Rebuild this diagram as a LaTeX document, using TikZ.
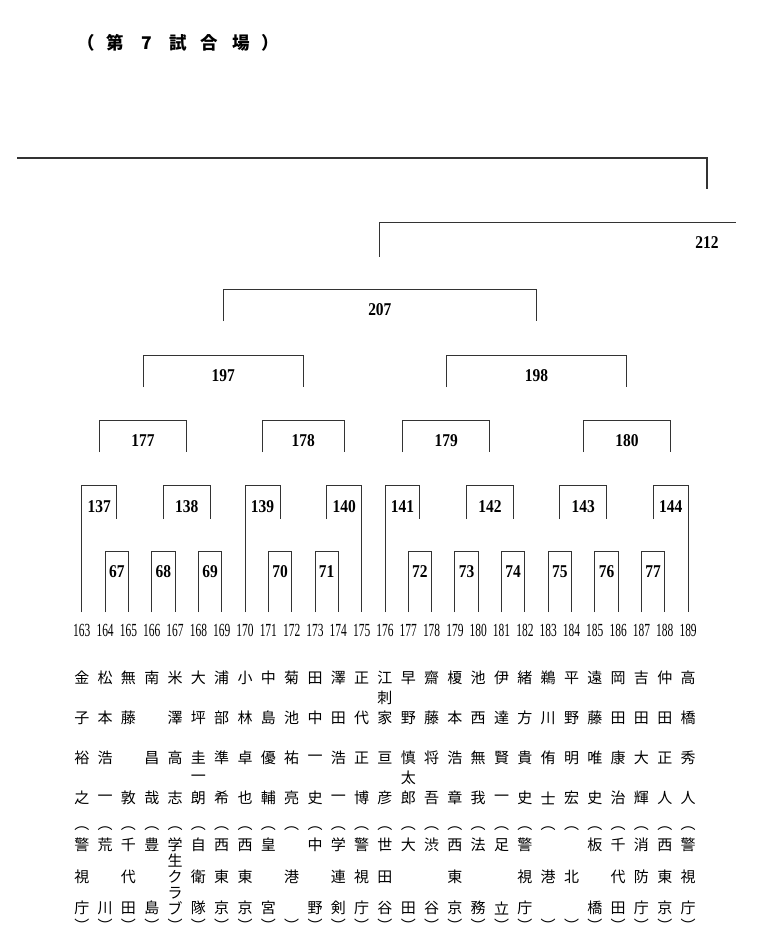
\documentclass[tikz,border=0pt]{standalone}
\usepackage{fontspec}
\usetikzlibrary{calc}
\newfontfamily\cjk{Noto Sans CJK JP}
\newfontfamily\numfont[FakeStretch=0.62]{Liberation Serif}
\newfontfamily\boutfont[FakeStretch=0.86]{Liberation Serif}

\tikzset{
  bracket/.style={draw=black!80, line width=0.9pt},
  boutno/.style={font=\boutfont\bfseries\fontsize{18}{18}\selectfont, inner sep=0pt},
  entryno/.style={font=\numfont\fontsize{18.5}{18.5}\selectfont, inner sep=0pt},
  kanji/.style={font=\cjk\fontsize{15}{15}\selectfont, inner sep=0pt},
}

\begin{document}
\begin{tikzpicture}[x=1pt, y=-1pt]
\useasboundingbox[fill=white] (0,0) rectangle (760,947);

% Title
\foreach \ch/\x [count=\k] in {（/86.5, 第/115, 7/147, 試/178, 合/209, 場/241, ）/270.5}
  \node[font=\cjk\bfseries\fontsize{17.5}{17.5}\selectfont, inner sep=0pt] (title\k) at (\x,43) {\ch};

% Entry numbers
\foreach \i in {163,...,189}
  \node[entryno] (p\i) at ({81.8+23.32*(\i-163)},630) {\i};

% First round
\foreach \m/\a/\b in {67/164/165, 68/166/167, 69/168/169, 70/171/172, 71/173/174,
    72/177/178, 73/179/180, 74/181/182, 75/183/184, 76/185/186, 77/187/188} {
  \draw[bracket] (p\a |- 0,612) |- (p\b |- 0,551) -- (p\b |- 0,612);
  \node[boutno] (m\m) at ($(p\a)!.5!(p\b) + (0,-58)$) {\m};
}

% Second round
\foreach \m/\l/\r/\ly/\ry in {137/p163/m67/612/519, 138/m68/m69/519/519,
    139/p170/m70/612/519, 140/m71/p175/519/612, 141/p176/m72/612/519,
    142/m73/m74/519/519, 143/m75/m76/519/519, 144/m77/p189/519/612} {
  \draw[bracket] (\l |- 0,\ly) |- (\r |- 0,485) -- (\r |- 0,\ry);
  \node[boutno] (m\m) at ($(\l |- 0,507)!.5!(\r |- 0,507)$) {\m};
}

% Third round
\foreach \m/\l/\r in {177/m137/m138, 178/m139/m140, 179/m141/m142, 180/m143/m144} {
  \draw[bracket] (\l |- 0,452) |- (\r |- 0,420) -- (\r |- 0,452);
  \node[boutno] (m\m) at ($(\l |- 0,441)!.5!(\r |- 0,441)$) {\m};
}

% Fourth round
\foreach \m/\l/\r in {197/m177/m178, 198/m179/m180} {
  \draw[bracket] (\l |- 0,387) |- (\r |- 0,355) -- (\r |- 0,387);
  \node[boutno] (m\m) at ($(\l |- 0,376)!.5!(\r |- 0,376)$) {\m};
}

% Fifth round
\draw[bracket] (m197 |- 0,321) |- (m198 |- 0,289) -- (m198 |- 0,321);
\node[boutno] (m207) at ($(m197 |- 0,310)!.5!(m198 |- 0,310)$) {207};

% Upper lines
\coordinate (edgeL) at (17,158);
\coordinate (edgeR) at (736,222.5);
\node[boutno] (m212) at (707,243) {212};
\draw[bracket] (m207 |- 0,256.5) |- (edgeR);
\draw[bracket, line width=1.4pt] (edgeL) -| (m212 |- 0,189);

% Names and teams
\foreach \i/\a/\b/\c/\d/\e/\f/\g in {
    163/金/子/裕/之/警/視/庁, 164/松/本/浩/一/荒/{}/川, 165/無/藤/{}/敦/千/代/田,
    166/南/{}/昌/哉/豊/{}/島, 167/米/澤/高/志/学/ク/ブ, 168/大/坪/圭/朗/自/衛/隊,
    169/浦/部/準/希/西/東/京, 170/小/林/卓/也/西/東/京, 171/中/島/優/輔/皇/{}/宮,
    172/菊/池/祐/亮/{}/港/{}, 173/田/中/一/史/中/{}/野, 174/澤/田/浩/一/学/連/剣,
    175/正/代/正/博/警/視/庁, 176/江/家/亘/彦/世/田/谷, 177/早/野/慎/郎/大/{}/田,
    178/齋/藤/将/吾/渋/{}/谷, 179/榎/本/浩/章/西/東/京, 180/池/西/無/我/法/{}/務,
    181/伊/達/賢/一/足/{}/立, 182/緒/方/貴/史/警/視/庁, 183/鵜/川/侑/士/{}/港/{},
    184/平/野/明/宏/{}/北/{}, 185/遠/藤/唯/史/板/{}/橋, 186/岡/田/康/治/千/代/田,
    187/吉/田/大/輝/消/防/庁, 188/仲/田/正/人/西/東/京, 189/高/橋/秀/人/警/視/庁} {
  \node[kanji] (n\i-1) at (p\i |- 0,678) {\a};
  \node[kanji] (n\i-2) at (p\i |- 0,718) {\b};
  \node[kanji] (n\i-3) at (p\i |- 0,758) {\c};
  \node[kanji] (n\i-4) at (p\i |- 0,798) {\d};
  \node[kanji] (o\i-0) at (p\i |- 0,829) {︵};
  \node[kanji] (o\i-1) at (p\i |- 0,845) {\e};
  \node[kanji] (o\i-2) at (p\i |- 0,877) {\f};
  \node[kanji] (o\i-3) at (p\i |- 0,908) {\g};
  \node[kanji] (o\i-4) at (p\i |- 0,925) {︶};
}
\node[kanji] (n168-x) at (p168 |- 0,778) {一};
\node[kanji] (n176-x) at (p176 |- 0,698) {刺};
\node[kanji] (n177-x) at (p177 |- 0,778) {太};
\node[kanji] (o167-x) at (p167 |- 0,861) {生};
\node[kanji] (o167-y) at (p167 |- 0,893) {ラ};

\end{tikzpicture}
\end{document}
